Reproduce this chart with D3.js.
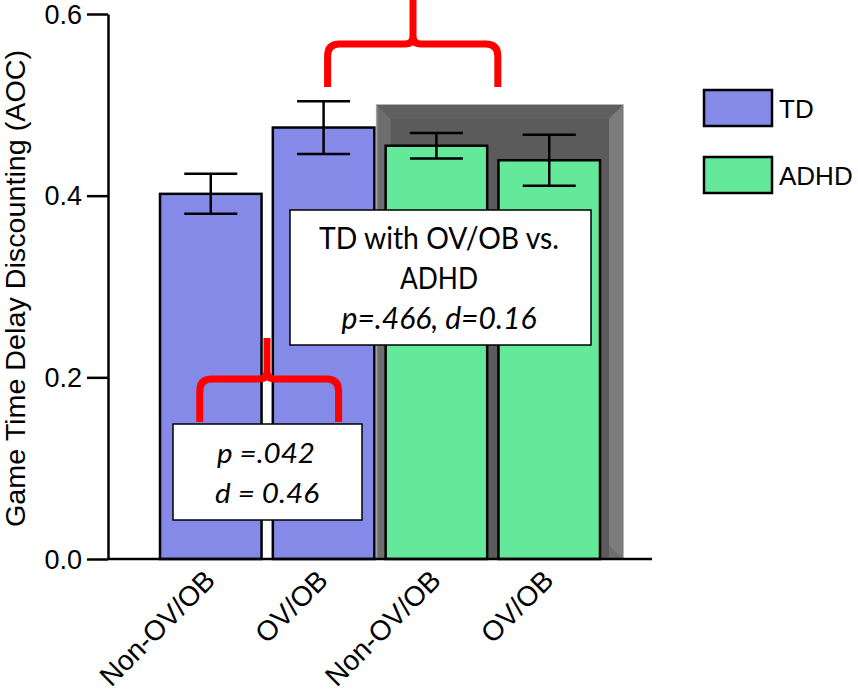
<!DOCTYPE html>
<html>
<head>
<meta charset="utf-8">
<script src="https://cdn.jsdelivr.net/npm/d3@7"></script>
<style>
  body { margin: 0; background: #fff; }
  svg { display: block; }
  .axis line, .axis path { stroke: #000; stroke-width: 2.5px; }
</style>
</head>
<body>
<div id="chart"></div>
<script>
// data
const groups = ["TD", "TD", "ADHD", "ADHD"];
const categories = ["Non-OV/OB", "OV/OB", "Non-OV/OB", "OV/OB"];
const means = [0.402, 0.475, 0.455, 0.439];
const sems = [0.022, 0.029, 0.014, 0.028];
const yTicks = [0, 0.2, 0.4, 0.6];
const legendLabels = ["TD", "ADHD"];
const colors = { TD: "#8589e7", ADHD: "#64e899" };

const width = 858, height = 698;
const svg = d3.select("#chart").append("svg")
  .attr("width", width).attr("height", height);

const ids = d3.range(categories.length);
const x = d3.scaleBand().domain(ids).range([160, 600]).paddingInner(0.1).paddingOuter(0);
const y = d3.scaleLinear().domain([0, 0.6]).range([559, 14]);
const bw = x.bandwidth();
const cx = i => x(i) + bw / 2;
const arial = "'Liberation Sans', Arial, sans-serif";

// gray bevel panel behind ADHD bars
const px0 = x(2) - 9, px1 = x(3) + bw + 23, py0 = 105, py1 = y(0);
const panel = svg.append("g");
panel.append("rect").attr("x", px0).attr("y", py0).attr("width", px1 - px0).attr("height", py1 - py0)
  .attr("fill", "#6e6e6e").attr("stroke", "#a0a0a0").attr("stroke-width", 1.5);
const inset = 14;
// top bevel
panel.append("path")
  .attr("d", `M${px0},${py0}L${px1},${py0}L${px1 - inset},${py0 + inset}L${px0 + inset},${py0 + inset}Z`)
  .attr("fill", "#5f5f5f");
// right bevel
panel.append("path")
  .attr("d", `M${px1},${py0}L${px1},${py1}L${px1 - inset},${py1 - inset}L${px1 - inset},${py0 + inset}Z`)
  .attr("fill", "#7c7c7c");
// inner face
panel.append("rect").attr("x", px0 + inset).attr("y", py0 + inset)
  .attr("width", px1 - px0 - 2 * inset).attr("height", py1 - py0 - inset)
  .attr("fill", "#5b5b5b");

// bars
svg.append("g").selectAll("rect").data(ids).join("rect")
  .attr("x", i => x(i))
  .attr("y", i => y(means[i]))
  .attr("width", bw)
  .attr("height", i => y(0) - y(means[i]))
  .attr("fill", i => colors[groups[i]])
  .attr("stroke", "#000").attr("stroke-width", 2.5);

// error bars
const capW = 53;
const eb = svg.append("g").attr("stroke", "#000").attr("stroke-width", 2.5);
ids.forEach(i => {
  const hi = y(means[i] + sems[i]), lo = y(means[i] - sems[i]);
  eb.append("line").attr("x1", cx(i)).attr("x2", cx(i)).attr("y1", hi).attr("y2", lo);
  eb.append("line").attr("x1", cx(i) - capW / 2).attr("x2", cx(i) + capW / 2).attr("y1", hi).attr("y2", hi);
  eb.append("line").attr("x1", cx(i) - capW / 2).attr("x2", cx(i) + capW / 2).attr("y1", lo).attr("y2", lo);
});

// y axis
const yAxis = svg.append("g").attr("class", "axis")
  .attr("transform", "translate(108,0)")
  .call(d3.axisLeft(y).tickValues(yTicks).tickFormat(d3.format(".1f")).tickSize(21).tickSizeOuter(0).tickPadding(5));
yAxis.selectAll("text").style("font-family", arial).style("font-size", "27px").attr("fill", "#000")
  .attr("dy", "0.34em");

// x baseline
svg.append("line").attr("x1", 108).attr("x2", 652).attr("y1", y(0)).attr("y2", y(0))
  .attr("stroke", "#000").attr("stroke-width", 2.5);

// x tick labels
svg.append("g").selectAll("text").data(ids).join("text")
  .attr("transform", i => `translate(${cx(i) + 6},582) rotate(-45)`)
  .attr("text-anchor", "end")
  .style("font-family", arial)
  .style("font-size", "28px")
  .text(i => categories[i]);

// y title
svg.append("text")
  .attr("transform", "translate(25,288.5) rotate(-90)")
  .attr("text-anchor", "middle")
  .attr("textLength", 477).attr("lengthAdjust", "spacingAndGlyphs")
  .style("font-family", arial)
  .style("font-size", "28px")
  .text("Game Time Delay Discounting (AOC)");

// red braces
function brace(x1, x2, xc, yLeg, yBar, yTip) {
  const r = 12, r2 = 8;
  return `M${x1},${yLeg}L${x1},${yBar + r}Q${x1},${yBar} ${x1 + r},${yBar}L${xc - r2},${yBar}` +
    `Q${xc},${yBar} ${xc},${yBar - r2}L${xc},${yTip}M${xc},${yBar - r2}Q${xc},${yBar} ${xc + r2},${yBar}` +
    `L${x2 - r},${yBar}Q${x2},${yBar} ${x2},${yBar + r}L${x2},${yLeg}`;
}
const braces = svg.append("g").attr("fill", "none").attr("stroke", "#ff0000").attr("stroke-width", 7);
braces.append("path").attr("d", brace(cx(1) + 4, (cx(2) + cx(3)) / 2 + 5, 413, 87, 44, -2));
braces.append("path").attr("d", brace(cx(0) - 11, cx(1) + 15, 267, 422, 379, 338));

// annotation boxes
function box(x0, y0, x1, y1, lines) {
  const g = svg.append("g");
  g.append("rect").attr("x", x0).attr("y", y0).attr("width", x1 - x0).attr("height", y1 - y0)
    .attr("fill", "#fff").attr("stroke", "#000").attr("stroke-width", 1.5);
  lines.forEach(l => {
    g.append("text").attr("x", l.x).attr("y", l.y).attr("text-anchor", "middle")
      .attr("textLength", l.w).attr("lengthAdjust", "spacingAndGlyphs")
      .style("font-family", "Lato, 'Open Sans', sans-serif")
      .style("font-size", l.size + "px")
      .style("font-style", l.italic ? "italic" : "normal")
      .text(l.t);
  });
}
box(290, 210, 591, 345, [
  { t: "TD with OV/OB vs.", x: 439, y: 249, w: 240, size: 31 },
  { t: "ADHD", x: 439, y: 289, w: 78, size: 31 },
  { t: "p=.466, d=0.16", x: 439, y: 329, w: 195, size: 31, italic: true }
]);
box(173, 424, 362, 520, [
  { t: "p =.042", x: 266, y: 463, w: 98, size: 27, italic: true },
  { t: "d = 0.46", x: 267, y: 503, w: 104, size: 27, italic: true }
]);

// legend
const lg = svg.append("g");
legendLabels.forEach((k, i) => {
  const ly = 90 + i * 67;
  lg.append("rect").attr("x", 704).attr("y", ly).attr("width", 68).attr("height", 36)
    .attr("fill", colors[k]).attr("stroke", "#000").attr("stroke-width", 2.5);
  lg.append("text").attr("x", 779).attr("y", ly + 28)
    .style("font-family", arial)
    .style("font-size", "26px")
    .text(k);
});
</script>
</body>
</html>
